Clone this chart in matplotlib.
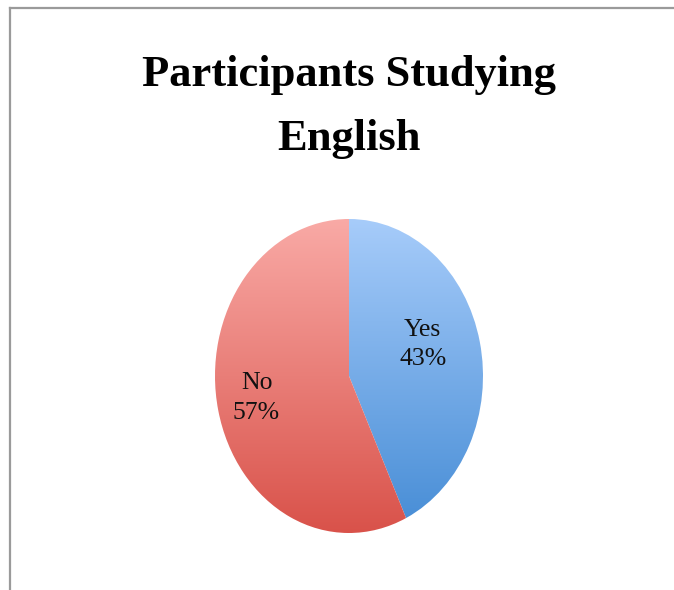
import numpy as np
import matplotlib
matplotlib.use('Agg')
import matplotlib.pyplot as plt
from matplotlib.colors import LinearSegmentedColormap
from matplotlib.lines import Line2D

# data
categories = ['Yes', 'No']
values = [43, 57]
top_colors = ['#a7ccfa', '#f9aaa6']
bottom_colors = ['#4a8fd7', '#d9524a']
title_lines = ['Participants Studying', 'English']

W, H = 674, 590
fig = plt.figure(figsize=(W / 100, H / 100), dpi=100)
fig.patch.set_facecolor('white')

# frame lines (left and top edges of the chart area)
fig.add_artist(Line2D([10 / W, 10 / W], [0, 1 - 8 / H], transform=fig.transFigure,
                      color='#9a9a9a', lw=1.6))
fig.add_artist(Line2D([10 / W, 1], [1 - 8 / H, 1 - 8 / H], transform=fig.transFigure,
                      color='#9a9a9a', lw=1.6))

# pie area, stretched to an ellipse like the original
px0, px1, py0, py1 = 215, 483, 219, 533
ax = fig.add_axes([px0 / W, 1 - py1 / H, (px1 - px0) / W, (py1 - py0) / H])

wedges, _ = ax.pie(values, startangle=90, counterclock=False,
                   wedgeprops=dict(linewidth=0, facecolor='none'))

grad = np.linspace(0, 1, 256).reshape(-1, 1)
for w, c_top, c_bot in zip(wedges, top_colors, bottom_colors):
    cmap = LinearSegmentedColormap.from_list('g', [c_bot, c_top])
    ext = w.get_path().get_extents(w.get_patch_transform())
    im = ax.imshow(grad, cmap=cmap, origin='lower', aspect='auto',
                   extent=[ext.x0, ext.x1, ext.y0, ext.y1], zorder=1)
    im.set_clip_path(w)

ax.set_xlim(-1, 1)
ax.set_ylim(-1, 1)
ax.set_aspect('auto')
ax.axis('off')

# data labels
label_pos = [(0.55, 0.2), (-0.69, -0.14)]
for cat, v, (lx, ly) in zip(categories, values, label_pos):
    ax.text(lx, ly, '{}\n{}%'.format(cat, v), ha='center', va='center',
            fontsize=18.5, family='Liberation Serif', color='#111111',
            linespacing=1.45, zorder=3)

# title
fig.text(348.5 / W, 1 - 86 / H, title_lines[0], ha='center', va='baseline',
         fontsize=32, fontweight='bold', family='Liberation Serif')
fig.text(348.5 / W, 1 - 150 / H, title_lines[1], ha='center', va='baseline',
         fontsize=32, fontweight='bold', family='Liberation Serif')

fig.savefig('out.png', dpi=100, facecolor='white')
